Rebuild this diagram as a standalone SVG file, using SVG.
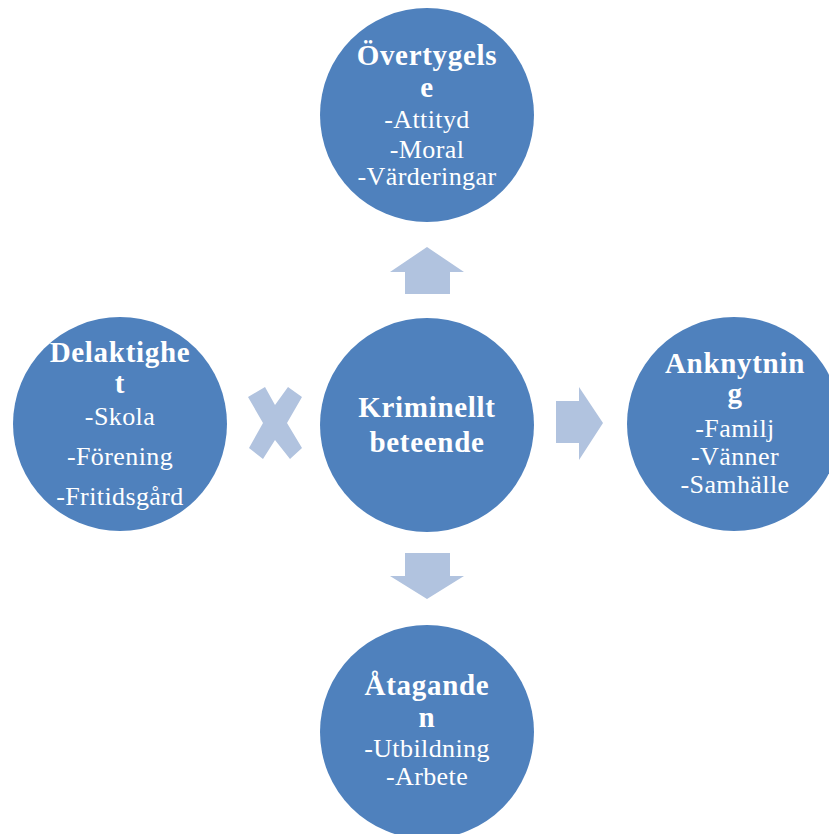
<svg xmlns="http://www.w3.org/2000/svg" width="829" height="834" viewBox="0 0 829 834">
<style>
.node{fill:#4F81BD;}
.arr{fill:#B1C3DF;}
text{font-family:"Liberation Serif","Times New Roman",serif;fill:#FFFFFF;text-anchor:middle;}
.h{font-weight:bold;font-size:29px;letter-spacing:0.7px;}
.s{font-size:26px;letter-spacing:0.4px;}
</style>
<rect width="829" height="834" fill="#FFFFFF"/>
<g id="connectors">
<polygon class="arr" points="427,247 464,272 450,272 450,294 405,294 405,272 390,272"/>
<polygon class="arr" points="405,553 450,553 450,576 464,576 427,599 390,576 405,576"/>
<polygon class="arr" points="556,401 579,401 579,387 603,423 579,460 579,443 556,443"/>
<polygon class="arr" points="248,397 265,387 275,405 288,387 302,397 287,423 302,448 290,459 275,440 263,459 249,448 263,423"/>
</g>
<g id="node-top">
<circle class="node" cx="427" cy="115" r="107"/>
<text class="h" x="427" y="65">Övertygels</text>
<text class="h" x="427" y="97">e</text>
<text class="s" x="427" y="128">-Attityd</text>
<text class="s" x="427" y="158">-Moral</text>
<text class="s" x="427" y="185">-Värderingar</text>
</g>
<g id="node-center">
<circle class="node" cx="427" cy="425" r="107"/>
<text class="h" x="427" y="417">Kriminellt</text>
<text class="h" x="427" y="452">beteende</text>
</g>
<g id="node-left">
<circle class="node" cx="120" cy="424" r="107"/>
<text class="h" x="120" y="362">Delaktighe</text>
<text class="h" x="120" y="393">t</text>
<text class="s" x="120" y="425">-Skola</text>
<text class="s" x="120" y="465">-Förening</text>
<text class="s" x="120" y="505">-Fritidsgård</text>
</g>
<g id="node-right">
<circle class="node" cx="734" cy="424" r="107"/>
<text class="h" x="735" y="373">Anknytnin</text>
<text class="h" x="735" y="403">g</text>
<text class="s" x="735" y="437">-Familj</text>
<text class="s" x="735" y="465">-Vänner</text>
<text class="s" x="735" y="493">-Samhälle</text>
</g>
<g id="node-bottom">
<circle class="node" cx="427" cy="732" r="107"/>
<text class="h" x="427" y="695">Åtagande</text>
<text class="h" x="427" y="727">n</text>
<text class="s" x="427" y="757">-Utbildning</text>
<text class="s" x="427" y="785">-Arbete</text>
</g>
</svg>
